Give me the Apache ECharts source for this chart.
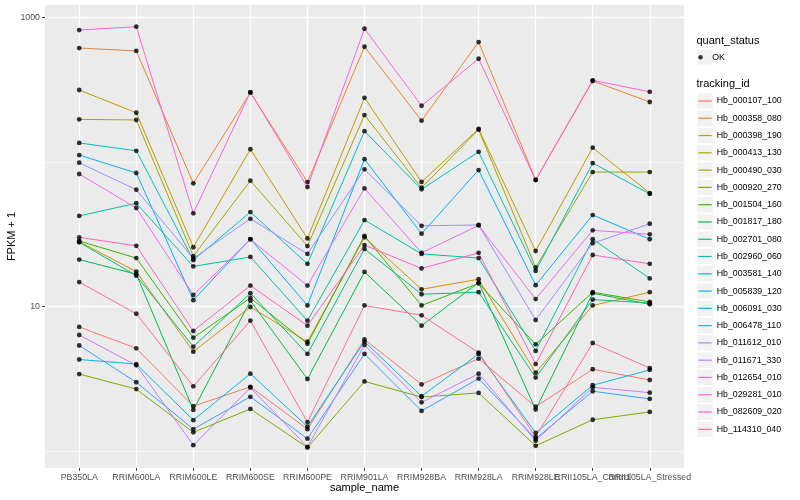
<!DOCTYPE html>
<html><head><meta charset="utf-8">
<script src="https://cdn.jsdelivr.net/npm/echarts@6/dist/echarts.min.js"></script>
<style>html,body{margin:0;padding:0;background:#fff}#c{width:800px;height:500px}</style>
</head><body><div id="c"></div>
<script>
// ---------- data ----------
const categories = ['PB350LA','RRIM600LA','RRIM600LE','RRIM600SE','RRIM600PE','RRIM901LA','RRIM928BA','RRIM928LA','RRIM928LE','RRII105LA_Control','RRII105LA_Stressed'];
const trackingIds = ['Hb_000107_100','Hb_000358_080','Hb_000398_190','Hb_000413_130','Hb_000490_030','Hb_000920_270','Hb_001504_160','Hb_001817_180','Hb_002701_080','Hb_002960_060','Hb_003581_140','Hb_005839_120','Hb_006091_030','Hb_006478_110','Hb_011612_010','Hb_011671_330','Hb_012654_010','Hb_029281_010','Hb_082609_020','Hb_114310_040'];
const quantStatus = ['OK'];
const Hb_000107_100 = [7.24, 5.15, 2.05, 2.79, 1.42, 5.93, 2.90, 4.37, 2.03, 3.69, 3.11];
const Hb_000358_080 = [617, 589, 71.4, 303, 72.9, 630, 194, 679, 75.5, 365, 261];
const Hb_000398_190 = [28.2, 17.5, 4.88, 9.95, 5.72, 30.2, 13.2, 15.5, 3.49, 10.2, 12.6];
const Hb_000413_130 = [316, 220, 25.8, 123, 29.7, 279, 73.0, 170, 24.3, 126, 61.2];
const Hb_000490_030 = [198, 196, 22.4, 74.5, 26.3, 212, 66.6, 168, 18.7, 85.5, 85.5];
const Hb_000920_270 = [3.42, 2.69, 1.35, 1.96, 1.06, 3.04, 2.37, 2.53, 1.09, 1.65, 1.87];
const Hb_001504_160 = [28.5, 21.7, 6.10, 11.5, 5.54, 30.9, 10.2, 14.5, 5.49, 12.6, 10.8];
const Hb_001817_180 = [21.2, 16.8, 1.93, 11.0, 3.16, 17.4, 7.39, 14.7, 1.94, 12.4, 10.4];
const Hb_002701_080 = [27.9, 16.4, 5.29, 12.4, 4.71, 25.1, 12.2, 12.6, 3.23, 11.2, 10.6];
const Hb_002960_060 = [42.5, 52.0, 19.0, 22.1, 8.0, 39.8, 23.2, 21.7, 4.94, 29.3, 15.7];
const Hb_003581_140 = [136, 120, 21.0, 45.2, 19.8, 164, 64.9, 118, 17.7, 98.7, 60.3];
const Hb_005839_120 = [4.31, 4.01, 1.64, 3.44, 1.48, 5.74, 2.40, 4.71, 1.34, 2.86, 3.65];
const Hb_006091_030 = [112, 84.2, 11.1, 29.4, 10.2, 105, 32.0, 88.3, 14.1, 43.1, 29.3];
const Hb_006478_110 = [5.39, 3.00, 1.42, 2.38, 1.22, 4.71, 1.90, 3.18, 1.22, 2.60, 2.30];
const Hb_011612_010 = [99.2, 64.5, 21.6, 40.6, 23.2, 89.3, 36.3, 36.8, 8.09, 27.5, 37.5];
const Hb_011671_330 = [6.37, 3.93, 1.10, 2.75, 1.07, 5.43, 2.18, 3.44, 1.18, 2.77, 2.54];
const Hb_012654_010 = [82.9, 48.2, 12.05, 29.2, 14.0, 65.9, 23.6, 36.5, 11.3, 33.8, 31.7];
const Hb_029281_010 = [822, 867, 44.3, 306, 67.3, 839, 246, 520, 75.3, 369, 307];
const Hb_082609_020 = [30.2, 26.4, 6.79, 14.0, 7.39, 26.7, 18.4, 23.6, 4.01, 22.8, 19.8];
const Hb_114310_040 = [14.8, 8.94, 2.81, 8.0, 1.59, 10.2, 8.72, 4.81, 1.26, 5.61, 3.76];
const seriesValues = [Hb_000107_100, Hb_000358_080, Hb_000398_190, Hb_000413_130, Hb_000490_030, Hb_000920_270, Hb_001504_160, Hb_001817_180, Hb_002701_080, Hb_002960_060, Hb_003581_140, Hb_005839_120, Hb_006091_030, Hb_006478_110, Hb_011612_010, Hb_011671_330, Hb_012654_010, Hb_029281_010, Hb_082609_020, Hb_114310_040];
const yMajorBreaks = [10, 1000];
const yMinorBreaks = [1, 100];
const yMin = 0.765, yMax = 1225;

// ---------- style ----------
const palette = ['#F8766D','#EA8331','#D89000','#C09B00','#A3A500','#7CAE00','#39B600','#00BB4E','#00BF7D','#00C1A3','#00BFC4','#00BAE0','#00B0F6','#35A2FF','#9590FF','#C77CFF','#E76BF3','#FA62DB','#FF62BC','#FF6C91'];
const FONT = '"Liberation Sans", Arial, Helvetica, sans-serif';
const P = {l: 45, r: 684, t: 5, b: 468};
const bandPad = (P.r - P.l) / 11.2 * 0.1;
const keyPitch = 17.28, keyFirst = 101, okCenter = 57.3;

const chart = echarts.init(document.getElementById('c'), null, {renderer: 'canvas'});

const lineSeries = seriesValues.map((vals, i) => ({
  name: trackingIds[i], type: 'line', xAxisIndex: 1, yAxisIndex: 1,
  data: vals, symbol: 'none', showSymbol: false,
  lineStyle: {color: palette[i], width: 1}, itemStyle: {color: palette[i]},
  z: 3, silent: true, emphasis: {disabled: true}
}));
const pointData = [];
seriesValues.forEach(vals => vals.forEach((v, j) => pointData.push([j, v])));

const graphics = [];
graphics.push({type: 'rect', z: 0, shape: {x: 697.3, y: okCenter - 7.7, width: 15.4, height: 15.4}, style: {fill: '#F2F2F2'}});
trackingIds.forEach((t, i) => {
  graphics.push({type: 'rect', z: 0, shape: {x: 697.3, y: keyFirst + i * keyPitch - 7.7, width: 15.4, height: 15.4}, style: {fill: '#F2F2F2'}});
});
const txt = (text, x, y, size, extra) => Object.assign({type: 'text', x: x, y: y, z: 5, style: {text: text, fill: '#000', font: size + 'px ' + FONT, textAlign: 'left', textVerticalAlign: 'middle', verticalAlign: 'middle'}}, extra || {});
graphics.push(txt('quant_status', 696.5, 40.7, 11));
graphics.push(txt('tracking_id', 696.5, 84.3, 11));
const xt = txt('sample_name', (P.l + P.r) / 2, 488.3, 11); xt.style.textAlign = 'center'; graphics.push(xt);
const yt = txt('FPKM + 1', 12, (P.t + P.b) / 2, 11, {rotation: Math.PI / 2}); yt.style.textAlign = 'center'; graphics.push(yt);

const textStyle = {fontSize: 8.8, color: '#000', fontFamily: FONT, lineHeight: keyPitch};
const markBase = {silent: true, z: 1, zlevel: 0, symbol: ['none', 'none'], label: {show: false}, animation: false, emphasis: {disabled: true}};

const option = {
  animation: false,
  grid: [
    {left: P.l, top: P.t, width: P.r - P.l, height: P.b - P.t, show: true, backgroundColor: '#EBEBEB', borderWidth: 0},
    {left: P.l + bandPad, top: P.t, width: P.r - P.l - 2 * bandPad, height: P.b - P.t},
    {left: P.l - 2.8, top: P.t, width: 2.8, height: P.b - P.t}
  ],
  xAxis: [
    {gridIndex: 0, type: 'value', min: 0, max: 1, show: false},
    {gridIndex: 1, type: 'category', data: categories, boundaryGap: true,
     axisLine: {show: false},
     axisTick: {show: true, alignWithLabel: true, length: 2.8, lineStyle: {color: '#333333', width: 1}},
     axisLabel: {interval: 0, margin: 5, color: '#4D4D4D', fontSize: 8.8, fontFamily: FONT, hideOverlap: false},
     splitLine: {show: false}},
    {gridIndex: 2, type: 'value', min: 0, max: 1, show: false}
  ],
  yAxis: [
    {gridIndex: 0, type: 'log', logBase: 10, min: yMin, max: yMax,
     axisLine: {show: false}, axisTick: {show: false}, splitLine: {show: false}, minorSplitLine: {show: false},
     axisLabel: {margin: 5, color: '#4D4D4D', fontSize: 8.8, fontFamily: FONT,
       formatter: v => { for (const b of yMajorBreaks) { if (Math.abs(v / b - 1) < 1e-6) return String(b); } return ''; }}},
    {gridIndex: 1, type: 'log', logBase: 10, min: yMin, max: yMax, show: false, splitLine: {show: false}},
    {gridIndex: 2, type: 'log', logBase: 10, min: yMin, max: yMax, show: false, splitLine: {show: false}}
  ],
  legend: [
    {orient: 'vertical', left: 698.3, top: okCenter - keyPitch / 2, padding: 0, itemGap: 0,
     itemWidth: 13.4, itemHeight: 4.5, selectedMode: false, symbolKeepAspect: true,
     data: quantStatus.map(q => ({name: q, icon: 'circle', itemStyle: {color: '#000', borderWidth: 0}})),
     textStyle: textStyle},
    {orient: 'vertical', left: 698.3, top: keyFirst - keyPitch / 2, padding: 0, itemGap: 0,
     itemWidth: 13.4, itemHeight: 1.2, selectedMode: false,
     data: trackingIds.map((n, i) => ({name: n, icon: 'rect', itemStyle: {color: palette[i], borderWidth: 0}})),
     textStyle: textStyle}
  ],
  graphic: graphics,
  series: [
    {name: '_hgrid', type: 'line', xAxisIndex: 0, yAxisIndex: 0, data: [[0.5, 10]], symbol: 'none', showSymbol: false,
     lineStyle: {opacity: 0}, z: 1, silent: true,
     markLine: Object.assign({}, markBase, {
       data: yMajorBreaks.map(b => ({yAxis: b, lineStyle: {color: '#FFFFFF', width: 1.3, type: 'solid'}}))
         .concat(yMinorBreaks.map(b => ({yAxis: b, lineStyle: {color: '#FFFFFF', width: 0.6, type: 'solid'}})))})},
    {name: '_vgrid', type: 'line', xAxisIndex: 1, yAxisIndex: 1, data: [[0, 10]], symbol: 'none', showSymbol: false,
     lineStyle: {opacity: 0}, z: 1, silent: true,
     markLine: Object.assign({}, markBase, {
       data: categories.map((c, i) => ({xAxis: i, lineStyle: {color: '#FFFFFF', width: 1.3, type: 'solid'}}))})},
    {name: '_yticks', type: 'line', xAxisIndex: 2, yAxisIndex: 2, data: [[0.5, 10]], symbol: 'none', showSymbol: false,
     lineStyle: {opacity: 0}, z: 1, silent: true,
     markLine: Object.assign({}, markBase, {
       data: yMajorBreaks.map(b => ({yAxis: b, lineStyle: {color: '#333333', width: 1, type: 'solid'}}))})}
  ].concat(lineSeries).concat([
    {name: 'OK', type: 'scatter', xAxisIndex: 1, yAxisIndex: 1, data: pointData, symbol: 'circle', symbolSize: 4.8,
     itemStyle: {color: '#000'}, z: 4, silent: true, emphasis: {disabled: true}}
  ])
};
chart.setOption(option);
</script>
</body></html>
